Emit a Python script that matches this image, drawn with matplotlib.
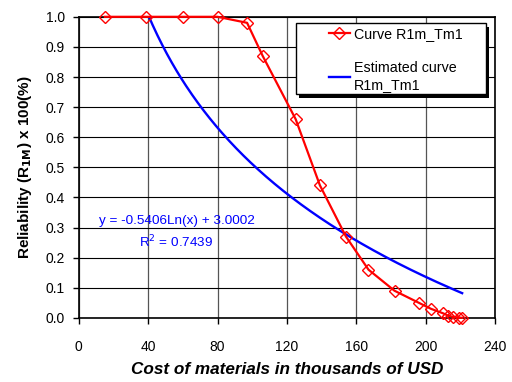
import numpy as np
import matplotlib
matplotlib.use('Agg')
from matplotlib import pyplot as plt
from matplotlib.patches import Rectangle

plt.rcParams['font.family'] = ['Liberation Sans', 'DejaVu Sans']

# measured curve
cost = [15, 39, 60, 80, 97, 106, 125, 139, 154, 167, 182, 196, 203, 210, 213, 216, 219, 221]
reliability = [1.0, 1.0, 1.0, 1.0, 0.98, 0.87, 0.66, 0.44, 0.27, 0.16, 0.09, 0.05,
               0.03, 0.015, 0.007, 0.003, 0.001, 0.0]

# log trendline as printed on the chart
slope = -0.5406
intercept = 3.0002
r2 = 0.7439

x_ticks = [0, 40, 80, 120, 160, 200, 240]
y_ticks = np.arange(0, 1.01, 0.1)

fig = plt.figure(figsize=(5.12, 3.82), dpi=100)
ax = fig.add_axes([0.154, 0.168, 0.813, 0.788])

ax.plot(cost, reliability, color='red', lw=1.6, marker='D', ms=6,
        mfc='none', mec='red', mew=1.0, label='Curve R1m_Tm1', zorder=3,
        clip_on=False)

trend_x = np.linspace(cost[0], cost[-1], 300)
trend_y = slope * np.log(trend_x) + intercept
ax.plot(trend_x, trend_y, color='blue', lw=1.7,
        label='Estimated curve\nR1m_Tm1', zorder=2)

ax.set_xlim(0, 240)
ax.set_ylim(0, 1.0)
ax.set_xticks(x_ticks)
ax.set_yticks(y_ticks)
ax.set_yticklabels([f'{v:.1f}' for v in y_ticks])
ax.tick_params(labelsize=10, direction='out', length=4, width=1, pad=6)
ax.tick_params(axis='x', pad=12)
ax.grid(True, color='black', lw=0.8)
ax.grid(True, axis='x', color='#555555', lw=0.9)
for s in ax.spines.values():
    s.set_linewidth(1.2)

ax.set_xlabel('Cost of materials in thousands of USD', fontsize=12.3,
              fontweight='bold', style='italic', labelpad=6)
ax.set_ylabel(r'Reliability (R$_{\mathbf{1M}}$) x 100(%)', fontsize=11,
              fontweight='bold', labelpad=8)

ax.text(56.3, 0.322, f'y = {slope}Ln(x) + {intercept:.4f}', color='blue',
        fontsize=9.7, ha='center', va='center')
ax.text(56.3, 0.252, f'R$^2$ = {r2}', color='blue', fontsize=9.7,
        ha='center', va='center')

# legend box with offset shadow, drawn by hand like the Excel one
bx, by, bw, bh = 0.521, 0.742, 0.456, 0.236
ax.add_patch(Rectangle((bx + 0.008, by - 0.011), bw, bh, transform=ax.transAxes,
                       facecolor='black', edgecolor='none', zorder=4))
ax.add_patch(Rectangle((bx, by), bw, bh, transform=ax.transAxes,
                       facecolor='white', edgecolor='black', lw=1.0, zorder=5))
leg = ax.legend(loc='upper left', bbox_to_anchor=(0.600, 0.965), fontsize=10.3,
                frameon=False, handlelength=1.5, handletextpad=0.3,
                borderpad=0, borderaxespad=0, labelspacing=1.35)
leg.get_texts()[1].set_linespacing(1.35)
leg.set_zorder(6)

fig.savefig('out.png', dpi=100)
